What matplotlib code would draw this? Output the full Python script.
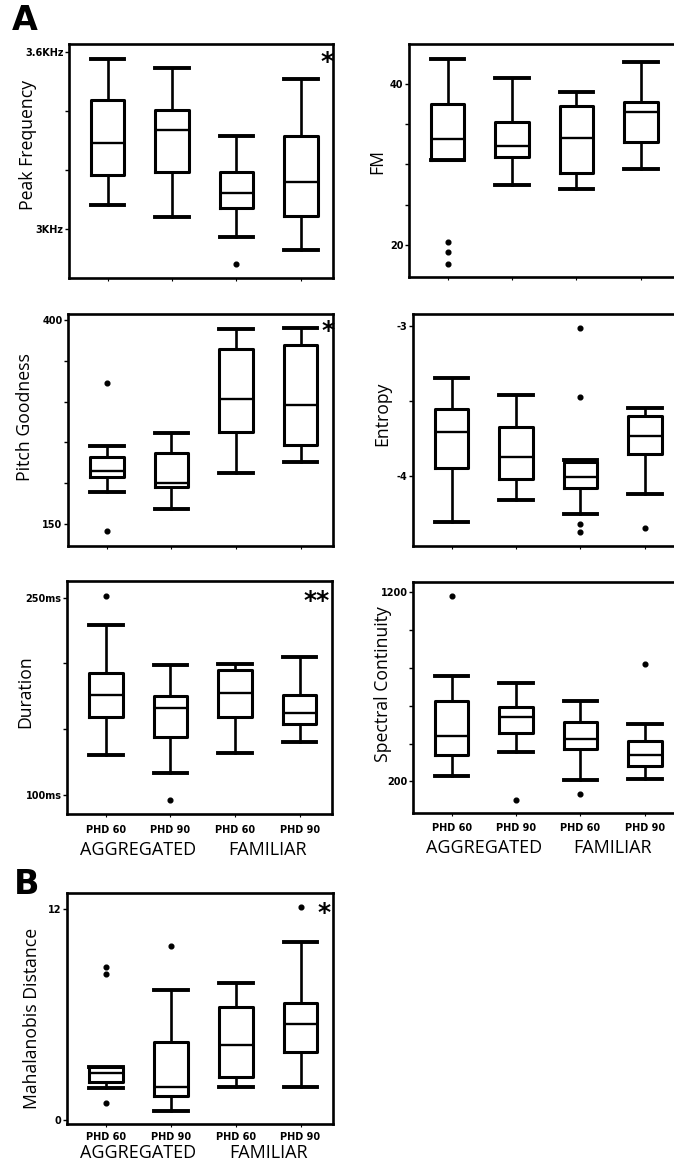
import matplotlib
matplotlib.use('Agg')
import matplotlib.pyplot as plt
from matplotlib.transforms import blended_transform_factory

# ---------------- data ----------------
GROUP_LABELS = ['PHD 60', 'PHD 90', 'PHD 60', 'PHD 90']
TREATMENTS = ['AGGREGATED', 'FAMILIAR']

# Peak Frequency (KHz)
PF_LOW = [3.081, 3.042, 2.972, 2.929]
PF_Q1 = [3.183, 3.192, 3.070, 3.044]
PF_MED = [3.293, 3.336, 3.123, 3.160]
PF_Q3 = [3.437, 3.403, 3.194, 3.315]
PF_HIGH = [3.576, 3.547, 3.316, 3.508]
PF_OUT = [[], [], [2.881], []]

# FM
FM_LOW = [30.56, 27.45, 26.96, 29.4]
FM_Q1 = [30.56, 30.9, 28.9, 32.8]
FM_MED = [33.1, 32.3, 33.25, 36.56]
FM_Q3 = [37.5, 35.3, 37.3, 37.7]
FM_HIGH = [43.1, 40.7, 39.0, 42.7]
FM_OUT = [[20.4, 19.1, 17.6], [], [], []]

# Pitch Goodness
PG_LOW = [189.8, 168.6, 212.3, 226.5]
PG_Q1 = [207.4, 195.2, 263.3, 247.0]
PG_MED = [215.1, 200.8, 302.9, 295.9]
PG_Q3 = [231.9, 236.8, 364.0, 368.5]
PG_HIGH = [246.1, 261.3, 388.5, 389.8]
PG_OUT = [[322.5, 142.0], [], [], []]

# Entropy
EN_LOW = [-4.304, -4.16, -4.253, -4.12]
EN_Q1 = [-3.949, -4.022, -4.082, -3.856]
EN_MED = [-3.709, -3.876, -4.009, -3.731]
EN_Q3 = [-3.553, -3.676, -3.904, -3.60]
EN_HIGH = [-3.349, -3.462, -3.893, -3.544]
EN_OUT = [[], [], [-3.016, -3.476, -4.322, -4.376], [-4.349]]

# Duration (ms)
DU_LOW = [129.9, 116.5, 131.7, 140.1]
DU_Q1 = [158.8, 144.3, 159.5, 153.7]
DU_MED = [176.0, 165.9, 177.3, 162.1]
DU_Q3 = [192.5, 175.5, 195.0, 176.0]
DU_HIGH = [229.2, 198.8, 199.6, 204.7]
DU_OUT = [[251.3], [95.7], [], []]

# Spectral Continuity
SC_LOW = [226.3, 357.9, 208.9, 214.2]
SC_Q1 = [340.5, 457.9, 372.1, 284.2]
SC_MED = [440.5, 538.9, 424.7, 340.5]
SC_Q3 = [624.7, 594.7, 515.8, 414.2]
SC_HIGH = [757.9, 721.0, 624.7, 502.1]
SC_OUT = [[1177.0], [100.0], [135.0], [817.9]]

# Mahalanobis Distance
MD_LOW = [1.80, 0.53, 1.89, 1.89]
MD_Q1 = [2.17, 1.36, 2.42, 3.84]
MD_MED = [2.65, 1.89, 4.25, 5.44]
MD_Q3 = [2.99, 4.44, 6.39, 6.65]
MD_HIGH = [2.99, 7.37, 7.80, 10.11]
MD_OUT = [[0.98, 8.69, 8.31], [9.86], [], [12.06]]

# ---------------- figure ----------------
W, H = 674, 1165
fig = plt.figure(figsize=(W / 100, H / 100), dpi=100)

LABEL_FONT = 'Open Sans'
TICK_FONT = 'DejaVu Sans'
LABEL_SIZE = 12.7


def make_axes(left, top, right, bottom):
    return fig.add_axes([left / W, 1 - bottom / H, (right - left) / W, (bottom - top) / H])


def draw_panel(ax, low, q1, med, q3, high, out, ylim, yticks, yticklabels,
               ylabel, ylabel_pos, star=None, star_pos=None, right_spine=True):
    stats = []
    for i in range(len(med)):
        stats.append(dict(whislo=low[i], q1=q1[i], med=med[i], q3=q3[i],
                          whishi=high[i], fliers=out[i]))
    positions = [1, 2, 3, 4]
    ax.bxp(stats, positions=positions, widths=0.52, capwidths=0.52,
           showfliers=True,
           boxprops=dict(color='black', linewidth=2.2),
           whiskerprops=dict(color='black', linewidth=1.9),
           capprops=dict(color='black', linewidth=2.8),
           medianprops=dict(color='black', linewidth=1.7),
           flierprops=dict(marker='o', markerfacecolor='black',
                           markeredgecolor='black', markersize=3.4))
    ax.set_xlim(0.4, 4.5)
    ax.set_ylim(*ylim)
    ax.set_yticks(yticks)
    ax.set_yticklabels(yticklabels, fontsize=7, fontweight='bold', family=TICK_FONT)
    ax.tick_params(axis='y', direction='out', length=3, width=1, pad=1)
    ax.set_xticks(positions)
    ax.set_xticklabels([])
    ax.tick_params(axis='x', direction='out', length=2, width=0.8)
    for s in ax.spines.values():
        s.set_linewidth(1.9)
    if not right_spine:
        ax.spines['right'].set_visible(False)
    ax.set_ylabel(ylabel, fontsize=LABEL_SIZE, family=LABEL_FONT)
    ax.yaxis.set_label_coords(ylabel_pos[0] + 0.036, ylabel_pos[1])
    if star:
        ax.text(star_pos[0], star_pos[1], star, transform=ax.transAxes,
                fontsize=18, fontweight='bold', ha='center', va='center',
                family='DejaVu Sans')


def add_xlabels(ax, y_tick, y_group):
    tr = blended_transform_factory(ax.transData, ax.transAxes)
    for i, lab in enumerate(GROUP_LABELS):
        ax.text(i + 1, y_tick, lab, transform=tr, ha='center', va='center',
                fontsize=7, fontweight='bold', family=TICK_FONT)
    for j, lab in enumerate(TREATMENTS):
        ax.text(1.5 + 2 * j, y_group, lab, transform=tr, ha='center', va='center',
                fontsize=13, family=LABEL_FONT)


# Panel 1: Peak frequency
ax1 = make_axes(69, 44, 333, 278)
draw_panel(ax1, PF_LOW, PF_Q1, PF_MED, PF_Q3, PF_HIGH, PF_OUT,
           (2.834, 3.627), [3.0, 3.2, 3.4, 3.6], ['3KHz', '', '', '3.6KHz'],
           'Peak Frequency', (-0.159, 0.568), '*', (0.977, 0.925))

# Panel 2: FM
ax2 = make_axes(409, 44, 673, 277)
draw_panel(ax2, FM_LOW, FM_Q1, FM_MED, FM_Q3, FM_HIGH, FM_OUT,
           (16.0, 44.97), [20, 25, 30, 35, 40], ['20', '', '', '', '40'],
           'FM', (-0.121, 0.494), right_spine=False)

# Panel 3: Pitch goodness
ax3 = make_axes(68, 314, 333, 546)
draw_panel(ax3, PG_LOW, PG_Q1, PG_MED, PG_Q3, PG_HIGH, PG_OUT,
           (123.3, 407.0), [150, 200, 250, 300, 350, 400],
           ['150', '', '', '', '', '400'],
           'Pitch Goodness', (-0.163, 0.555), '*', (0.98, 0.925))

# Panel 4: Entropy
ax4 = make_axes(413, 314, 677, 546)
draw_panel(ax4, EN_LOW, EN_Q1, EN_MED, EN_Q3, EN_HIGH, EN_OUT,
           (-4.467, -2.92), [-4.0, -3.5, -3.0], ['-4', '', '-3'],
           'Entropy', (-0.117, 0.572), right_spine=False)

# Panel 5: Duration
ax5 = make_axes(67, 581, 332, 814)
draw_panel(ax5, DU_LOW, DU_Q1, DU_MED, DU_Q3, DU_HIGH, DU_OUT,
           (85.3, 262.7), [100, 150, 200, 250], ['100ms', '', '', '250ms'],
           'Duration', (-0.158, 0.525), '**', (0.943, 0.915))
add_xlabels(ax5, -0.067, -0.153)

# Panel 6: Spectral continuity
ax6 = make_axes(413, 582, 677, 813)
draw_panel(ax6, SC_LOW, SC_Q1, SC_MED, SC_Q3, SC_HIGH, SC_OUT,
           (33.7, 1252.6), [200, 400, 600, 800, 1000, 1200],
           ['200', '', '', '', '', '1200'],
           'Spectral Continuity', (-0.116, 0.558), right_spine=False)
add_xlabels(ax6, -0.067, -0.153)

# Panel 7: Mahalanobis distance
ax7 = make_axes(67, 893, 333, 1124)
draw_panel(ax7, MD_LOW, MD_Q1, MD_MED, MD_Q3, MD_HIGH, MD_OUT,
           (-0.23, 12.88), [0, 12], ['0', '12'],
           'Mahalanobis Distance', (-0.133, 0.458), '*', (0.966, 0.915))
add_xlabels(ax7, -0.056, -0.125)

# Panel letters
fig.text(12 / W, 1 - 20 / H, 'A', fontsize=24, fontweight='heavy',
         family='DejaVu Sans', ha='left', va='center')
fig.text(14 / W, 1 - 885 / H, 'B', fontsize=24, fontweight='heavy',
         family='DejaVu Sans', ha='left', va='center')

fig.savefig('out.png', dpi=100)
